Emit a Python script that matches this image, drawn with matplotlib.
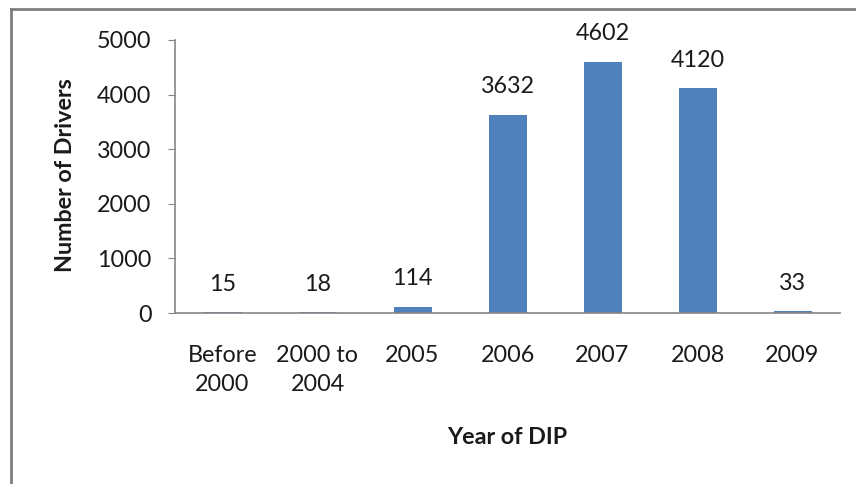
import matplotlib
matplotlib.use("Agg")
import matplotlib.pyplot as plt
from matplotlib.lines import Line2D

categories = ["Before\n2000", "2000 to\n2004", "2005", "2006", "2007", "2008", "2009"]
drivers = [15, 18, 114, 3632, 4602, 4120, 33]
yticks = [0, 1000, 2000, 3000, 4000, 5000]

plt.rcParams['font.family'] = ['Lato', 'DejaVu Sans']
W, H = 856, 484
FS = 16.8
fig = plt.figure(figsize=(W/100, H/100), dpi=100)
ax = fig.add_axes([175/W, 1-313/H, (840-175)/W, (313-40)/H])

bar_color = '#4F81BD'
axis_color = '#868686'
text_color = '#1a1a1a'

x = list(range(len(categories)))
bars = ax.bar(x, drivers, width=0.4, color=bar_color)
ax.set_xlim(-0.5, len(categories)-0.5)
ax.set_ylim(0, 5000)
ax.set_yticks(yticks)
ax.set_xticks(x)
ax.set_xticklabels(categories, fontsize=FS, color=text_color, linespacing=1.45)
ax.set_yticklabels([str(v) for v in yticks], fontsize=FS, color=text_color)
ax.tick_params(axis='x', length=0, pad=23)
ax.tick_params(axis='y', length=5, color=axis_color, pad=12)

for s in ['top', 'right']:
    ax.spines[s].set_visible(False)
for s in ['left', 'bottom']:
    ax.spines[s].set_color(axis_color)
    ax.spines[s].set_linewidth(1.2)

for xi, v in zip(x, drivers):
    ax.annotate(str(v), (xi, v), xytext=(0, 20), textcoords='offset points',
                ha='center', va='center', fontsize=FS, color=text_color,
                annotation_clip=False)

fig.text(65/W, 1-175/H, "Number of Drivers", rotation=90, ha='center', va='center',
         fontsize=FS, fontweight='bold', color=text_color)
fig.text(507/W, 1-437/H, "Year of DIP", ha='center', va='center',
         fontsize=FS, fontweight='bold', color=text_color)

# outer chart frame (top and left visible)
fig.add_artist(Line2D([11/W, 1.01], [1-9/H, 1-9/H], transform=fig.transFigure,
                      color='#7f7f7f', linewidth=2))
fig.add_artist(Line2D([11/W, 11/W], [-0.01, 1-9/H], transform=fig.transFigure,
                      color='#7f7f7f', linewidth=2))

fig.savefig("out.png", dpi=100)
